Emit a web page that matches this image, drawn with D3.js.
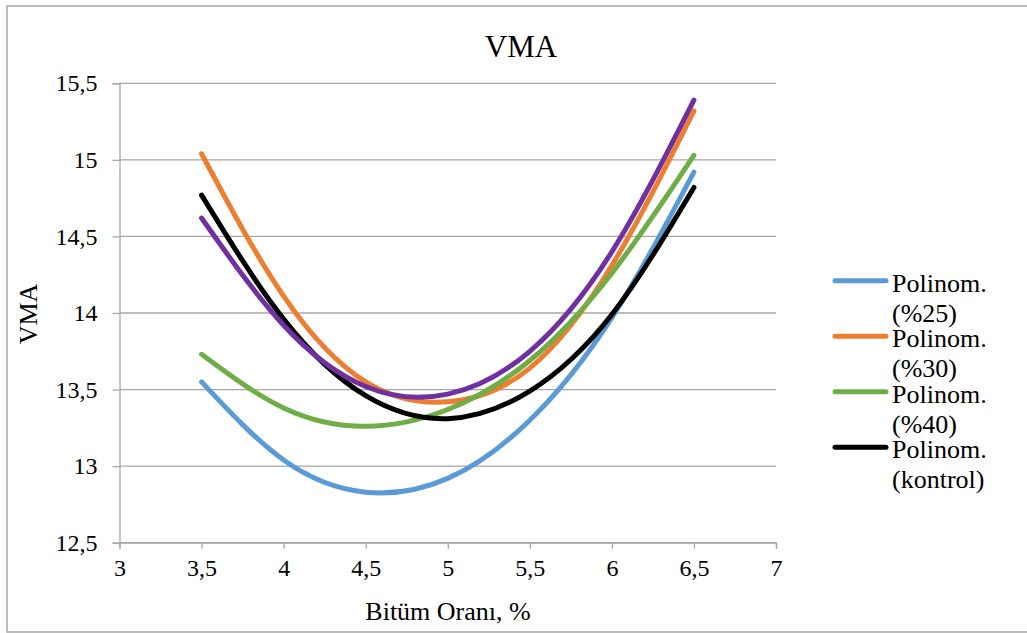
<!DOCTYPE html>
<html>
<head>
<meta charset="utf-8">
<script src="https://cdn.jsdelivr.net/npm/d3@7"></script>
<style>
  html, body { margin: 0; padding: 0; background: #fff; }
  svg { display: block; }
  svg text { font-family: "Liberation Serif", "Times New Roman", serif !important; fill: #000; }
</style>
</head>
<body>
<svg id="chart" width="1027" height="633"></svg>
<script>
// Bitumen content (%) at which each fitted curve is sampled
const bitumen = [3.5, 4, 4.5, 5, 5.5, 6, 6.5];

// VMA values of the polynomial trendlines
const vma25      = [13.55, 13.04, 12.83, 12.92, 13.30, 13.97, 14.92];
const vma30      = [15.04, 14.11, 13.55, 13.42, 13.64, 14.31, 15.32];
const vma40      = [13.73, 13.38, 13.26, 13.37, 13.69, 14.26, 15.03];
const vmaKontrol = [14.77, 13.96, 13.46, 13.31, 13.49, 13.99, 14.82];
const vmaExtra   = [14.62, 13.92, 13.52, 13.47, 13.75, 14.40, 15.39];

const seriesNames  = ["Polinom. (%25)", "Polinom. (%30)", "Polinom. (%40)", "Polinom. (kontrol)", null];
const seriesColors = ["#5b9bd5", "#ed7d31", "#70ad47", "#000000", "#7030a0"];
const seriesValues = [vma25, vma30, vma40, vmaKontrol, vmaExtra];

// Axis ticks
const xTicks = [3, 3.5, 4, 4.5, 5, 5.5, 6, 6.5, 7];
const yTicks = [12.5, 13, 13.5, 14, 14.5, 15, 15.5];

const chartTitle = "VMA";
const xTitle = "Bitüm Oranı, %";
const yTitle = "VMA";

const svg = d3.select("#chart");
const W = 1027, H = 633;

// Outer chart frame (right edge runs past the window)
svg.append("rect")
  .attr("x", 7).attr("y", 6)
  .attr("width", W + 10).attr("height", 626)
  .attr("fill", "#fff")
  .attr("stroke", "#a6a6a6").attr("stroke-width", 1.5);

const plot = { left: 119.5, right: 776, top: 83.3, bottom: 542.7 };

const x = d3.scaleLinear().domain([3, 7]).range([plot.left, plot.right]);
const y = d3.scaleLinear().domain([12.5, 15.5]).range([plot.bottom, plot.top]);

const comma = v => d3.format("")(v).replace(".", ",");
const serif = '"Liberation Serif", "Times New Roman", serif';

// Horizontal gridlines
svg.append("g").selectAll("line")
  .data(yTicks)
  .join("line")
  .attr("x1", plot.left).attr("x2", plot.right)
  .attr("y1", d => y(d)).attr("y2", d => y(d))
  .attr("stroke", "#a6a6a6").attr("stroke-width", 1.3);

// Y axis
const yAxis = svg.append("g")
  .attr("transform", `translate(${plot.left},0)`)
  .call(d3.axisLeft(y).tickValues(yTicks).tickFormat(comma).tickSize(7).tickPadding(15));
yAxis.attr("font-family", null);
yAxis.select(".domain").attr("stroke", "#a6a6a6").attr("stroke-width", 1.3);
yAxis.selectAll(".tick line").attr("stroke", "#a6a6a6").attr("stroke-width", 1.3);
yAxis.selectAll(".tick text")
  .style("font-family", serif).attr("font-size", 24).attr("fill", "#000");

// X axis
const xAxis = svg.append("g")
  .attr("transform", `translate(0,${plot.bottom})`)
  .call(d3.axisBottom(x).tickValues(xTicks).tickFormat(comma).tickSize(6).tickPadding(10));
xAxis.attr("font-family", null);
xAxis.select(".domain").attr("stroke", "#a6a6a6").attr("stroke-width", 1.3);
xAxis.selectAll(".tick line").attr("stroke", "#a6a6a6").attr("stroke-width", 1.3);
xAxis.selectAll(".tick text")
  .style("font-family", serif).attr("font-size", 24).attr("fill", "#000");

// Trendlines
const line = d3.line()
  .x(d => x(d[0]))
  .y(d => y(d[1]))
  .curve(d3.curveNatural);

svg.append("g").selectAll("path")
  .data(seriesValues.map((vals, i) => ({ color: seriesColors[i], pts: bitumen.map((b, j) => [b, vals[j]]) })))
  .join("path")
  .attr("d", d => line(d.pts))
  .attr("fill", "none")
  .attr("stroke", d => d.color)
  .attr("stroke-width", 5)
  .attr("stroke-linecap", "round")
  .attr("stroke-linejoin", "round");

// Titles
svg.append("text")
  .attr("x", 521).attr("y", 57)
  .attr("text-anchor", "middle")
  .attr("font-size", 31)
  .style("font-family", serif)
  .text(chartTitle);

svg.append("text")
  .attr("x", 448).attr("y", 620)
  .attr("text-anchor", "middle")
  .attr("font-size", 26)
  .style("font-family", serif)
  .text(xTitle);

svg.append("text")
  .attr("transform", "translate(37,314) rotate(-90)")
  .attr("text-anchor", "middle")
  .attr("font-size", 26)
  .style("font-family", serif)
  .text(yTitle);

// Legend (two-line labels)
const legendItems = seriesNames
  .map((name, i) => ({ name, color: seriesColors[i] }))
  .filter(d => d.name);

const legend = svg.append("g");
const lg = legend.selectAll("g")
  .data(legendItems)
  .join("g")
  .attr("transform", (d, i) => `translate(0,${280.7 + i * 55.5})`);

lg.append("line")
  .attr("x1", 835).attr("x2", 886)
  .attr("y1", 0).attr("y2", 0)
  .attr("stroke", d => d.color)
  .attr("stroke-width", 5)
  .attr("stroke-linecap", "round");

lg.append("text")
  .attr("x", 892).attr("y", 11)
  .attr("font-size", 26)
  .style("font-family", serif)
  .each(function (d) {
    const parts = d.name.split(" ");
    const t = d3.select(this);
    t.append("tspan").attr("x", 892).attr("dy", 0).text(parts[0]);
    t.append("tspan").attr("x", 892).attr("dy", 30).text(parts.slice(1).join(" "));
  });
</script>
</body>
</html>
